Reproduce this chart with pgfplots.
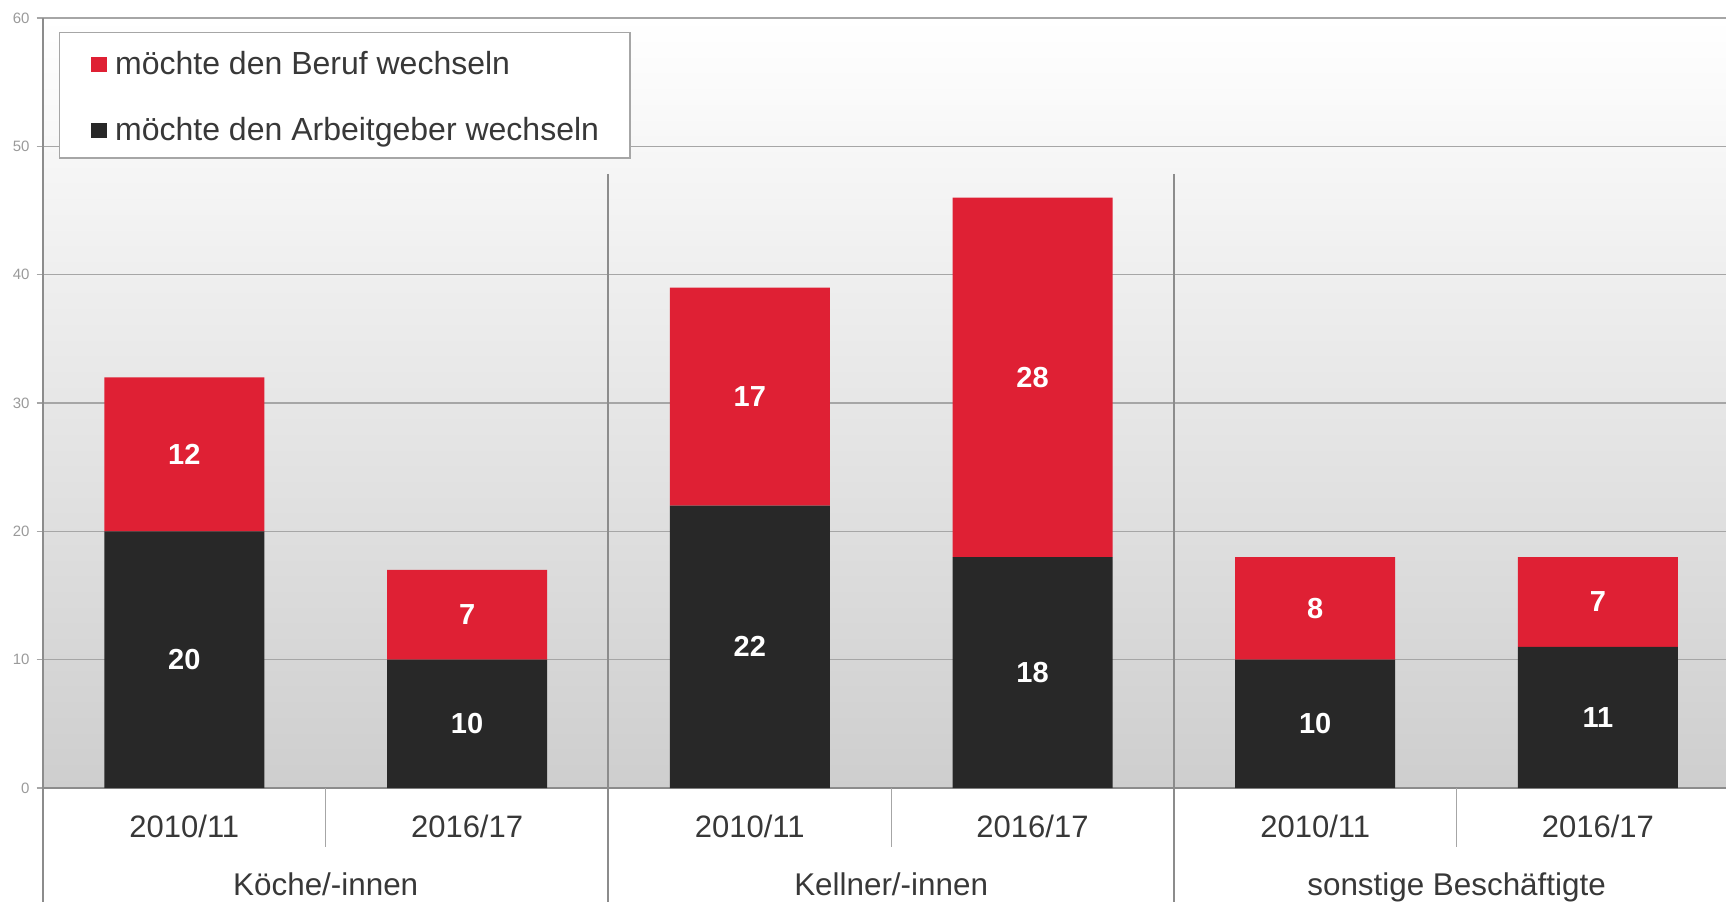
\documentclass[border=0pt]{standalone}
\usepackage{pgfplots}
\pgfplotsset{compat=1.18}
\usepackage{fontspec}
\setmainfont{Liberation Sans}
\definecolor{barred}{HTML}{DF2034}
\definecolor{barblack}{HTML}{282828}
\definecolor{txt}{HTML}{383838}
\definecolor{ticktxt}{HTML}{9A9A9A}
\definecolor{gridc}{HTML}{A6A6A6}
\definecolor{sepc}{HTML}{8C8C8C}
\definecolor{bgbot}{HTML}{CECECE}
\begin{document}
\begin{tikzpicture}
\useasboundingbox (-21.5pt,-57pt) rectangle (841.5pt,394pt);
\begin{axis}[
  at={(0pt,0pt)}, anchor=south west,
  scale only axis, width=841.5pt, height=385pt,
  /pgf/number format/assume math mode=true,
  ybar stacked, bar width=80pt,
  xmin=-0.5, xmax=5.453, ymin=0, ymax=60,
  enlargelimits=false, clip=false,
  axis lines=left, axis line style={-, draw=sepc, line width=0.7pt},
  ytick={0,10,...,60},
  ymajorgrids, grid style={draw=gridc, line width=0.7pt},
  tick align=outside, major tick length=3.2pt,
  ytick style={draw=gridc, line width=0.7pt},
  xtick={0,...,5}, xtick style={draw=none},
  xticklabels={2010/11,2016/17,2010/11,2016/17,2010/11,2016/17},
  yticklabel style={font=\fontsize{7.5}{9}\selectfont, text=ticktxt},
  xticklabel style={font=\fontsize{15.5}{18}\selectfont, text=txt, anchor=base, inner sep=0pt, yshift=-21.65pt},
  axis background/.style={top color=white, bottom color=bgbot},
  point meta=explicit,
  nodes near coords,
  every node near coord/.append style={anchor=center, font=\bfseries\fontsize{14.5}{17}\selectfont, text=white},
  reverse legend,
  legend cell align=left,
  legend image code/.code={\fill[#1] (0pt,0.8pt) rectangle (8.3pt,8.7pt);},
  legend style={at={(0.0095,0.9818)}, anchor=north west, draw=gridc, line width=0.6pt, fill=white,
    inner xsep=15.5pt, inner ysep=7.5pt, row sep=18.3pt, column sep=4pt,
    font=\fontsize{16}{19}\selectfont, text=txt,
    cells={anchor=base west},
    nodes={inner sep=0pt, text height=13.2pt, text depth=1.5pt}},
]
\addplot[fill=barblack, draw=none] coordinates {(0,20)[20] (1,10)[10] (2,22)[22] (3,18)[18] (4,10)[10] (5,11)[11]};
\addlegendentry{möchte den Arbeitgeber wechseln}
\addplot[fill=barred, draw=none] coordinates {(0,12)[12] (1,7)[7] (2,17)[17] (3,28)[28] (4,8)[8] (5,7)[7]};
\addlegendentry{möchte den Beruf wechseln}

\draw[sepc, line width=0.7pt] (axis cs:-0.5,0) -- ++(0pt,-57pt);
\draw[sepc, line width=1pt] (axis cs:1.5,47.85) -- ([yshift=-57pt]axis cs:1.5,0);
\draw[sepc, line width=1pt] (axis cs:3.5,47.85) -- ([yshift=-57pt]axis cs:3.5,0);
\draw[gridc, line width=0.5pt] (axis cs:0.5,0) -- ([yshift=-29.3pt]axis cs:0.5,0);
\draw[gridc, line width=0.5pt] (axis cs:2.5,0) -- ([yshift=-29.3pt]axis cs:2.5,0);
\draw[gridc, line width=0.5pt] (axis cs:4.5,0) -- ([yshift=-29.3pt]axis cs:4.5,0);
\node[anchor=base, font=\fontsize{15.7}{18}\selectfont, text=txt] at ([yshift=-53.5pt]axis cs:0.5,0) {Köche/-innen};
\node[anchor=base, font=\fontsize{15.7}{18}\selectfont, text=txt] at ([yshift=-53.5pt]axis cs:2.5,0) {Kellner/-innen};
\node[anchor=base, font=\fontsize{15.7}{18}\selectfont, text=txt] at ([yshift=-53.5pt]axis cs:4.5,0) {sonstige Beschäftigte};
\end{axis}
\end{tikzpicture}
\end{document}
